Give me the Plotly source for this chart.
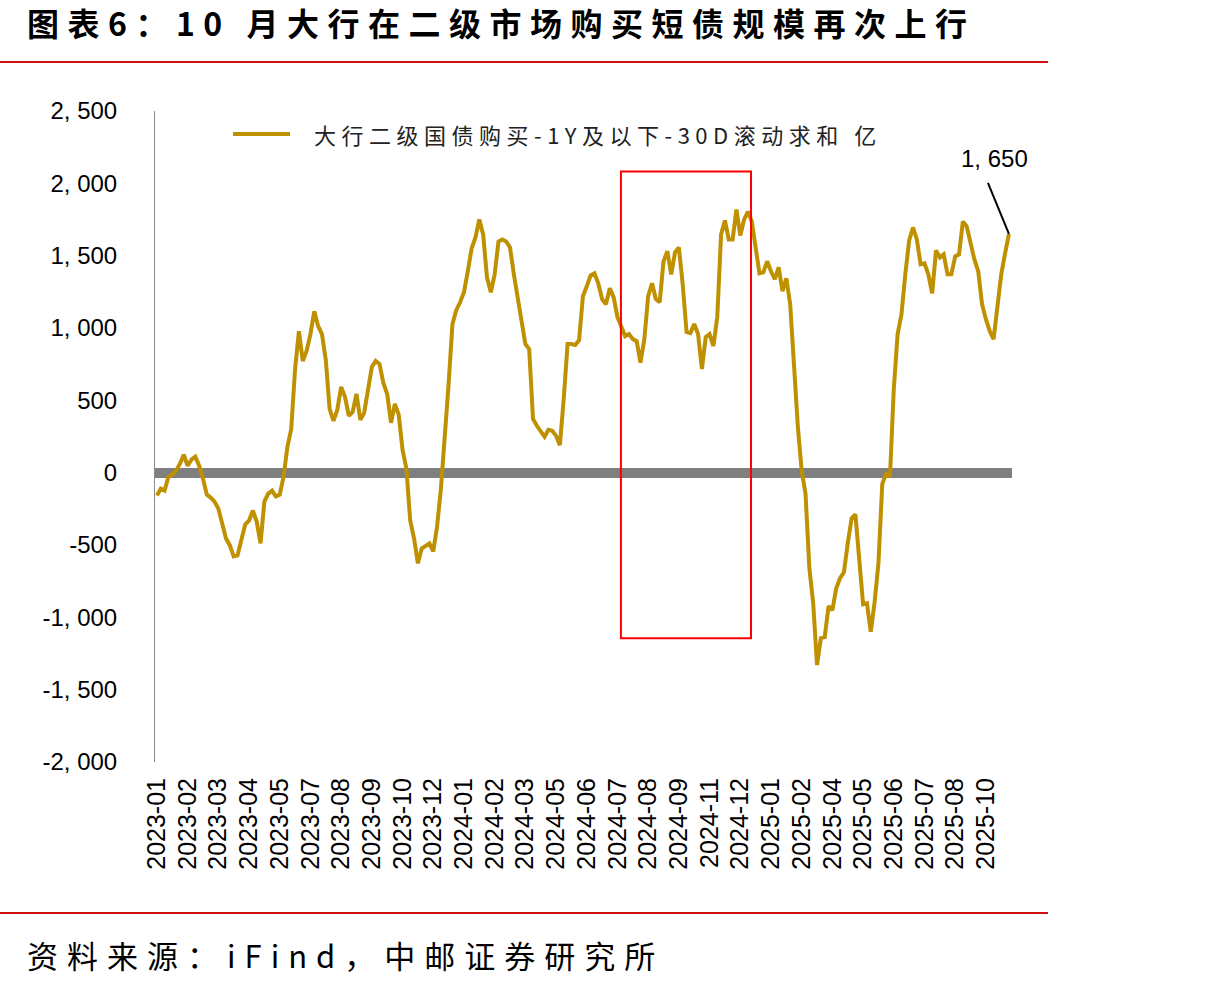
import plotly.graph_objects as go

# ---------------- data ----------------
tick_labels = [
    "2023-01", "2023-02", "2023-03", "2023-04", "2023-05", "2023-07", "2023-08",
    "2023-09", "2023-10", "2023-12", "2024-01", "2024-02", "2024-03", "2024-05",
    "2024-06", "2024-07", "2024-08", "2024-09", "2024-11", "2024-12", "2025-01",
    "2025-02", "2025-04", "2025-05", "2025-06", "2025-07", "2025-08", "2025-10",
]
points_per_label = 8

values = [
    -158, -110, -124, -28, -14, 14, 62, 124, 48, 90,
    110, 48, -41, -152, -172, -200, -248, -358, -455, -503,
    -579, -572, -462, -358, -331, -262, -338, -489, -200, -145,
    -124, -165, -152, -28, 179, 303, 717, 978, 772, 841,
    958, 1116, 1013, 958, 779, 441, 358, 434, 593, 524,
    393, 420, 544, 365, 413, 579, 730, 772, 751, 620,
    544, 345, 475, 400, 158, 28, -331, -455, -627, -524,
    -510, -489, -544, -372, -110, 227, 613, 1027, 1123, 1178,
    1247, 1392, 1550, 1626, 1750, 1647, 1350, 1247, 1371, 1598,
    1612, 1598, 1557, 1371, 1199, 1027, 889, 854, 372, 324,
    289, 248, 296, 289, 255, 190, 510, 889, 889, 882,
    916, 1220, 1288, 1364, 1378, 1309, 1199, 1164, 1275, 1213,
    1075, 1013, 944, 958, 923, 909, 760, 923, 1220, 1309,
    1199, 1178, 1461, 1530, 1371, 1523, 1557, 1302, 972, 965,
    1027, 958, 717, 937, 958, 875, 1075, 1647, 1743, 1612,
    1612, 1819, 1640, 1750, 1805, 1736, 1543, 1378, 1385, 1461,
    1392, 1337, 1419, 1254, 1344, 1164, 744, 317, 14, -145,
    -661, -903, -1330, -1144, -1137, -923, -951, -799, -730, -689,
    -489, -317, -289, -627, -909, -903, -1100, -896, -627, -76,
    -7, -28, 579, 958, 1095, 1371, 1605, 1695, 1612, 1440,
    1447, 1371, 1240, 1536, 1488, 1509, 1371, 1371, 1495, 1509,
    1736, 1702, 1578, 1474, 1392, 1164, 1061, 978, 923, 1171,
    1371, 1516, 1650,
]
series_name = "大行二级国债购买-1Y及以下-30D滚动求和 亿"
y_ticks = [-2000, -1500, -1000, -500, 0, 500, 1000, 1500, 2000, 2500]
y_tick_text = ["-2, 000", "-1, 500", "-1, 000", "-500", "0", "500",
               "1, 000", "1, 500", "2, 000", "2, 500"]
# highlighted window (index range and value range of the red box)
box_x = [120.9, 154.8]
box_y = [-1144, 2081]

title_text = "图表6：10 月大行在二级市场购买短债规模再次上行"
source_text = "资料来源：iFind，中邮证券研究所"

# ---------------- figure ----------------
x_idx = list(range(len(values)))
tick_vals = [i * points_per_label for i in range(len(tick_labels))]
last_i = x_idx[-1]
last_v = values[-1]

GOLD = "#BF9000"
CJK = "Noto Sans CJK SC"
LAT = "Arial, Liberation Sans, sans-serif"

fig = go.Figure()
fig.add_trace(go.Scatter(
    x=x_idx, y=values, mode="lines", name=series_name,
    line=dict(color=GOLD, width=4), showlegend=False,
))

W, H = 1228, 989
L, R, T, B = 155, 216, 111, 227
pw, ph = W - L - R, H - T - B


def px(xp):
    return (xp - L) / pw


def py(yp):
    return (H - B - yp) / ph


fig.update_layout(
    width=W, height=H,
    margin=dict(l=L, r=R, t=T, b=B, pad=0),
    paper_bgcolor="white", plot_bgcolor="white",
    font=dict(family=LAT, color="#000"),
    showlegend=False,
)
fig.update_xaxes(
    range=[-0.5, last_i + 0.8],
    tickvals=tick_vals, ticktext=tick_labels, tickangle=-90,
    tickfont=dict(size=25, family=LAT, color="#000"),
    showgrid=False, zeroline=False, showline=False, ticks="",
    ticklabelstandoff=10,
)
fig.update_yaxes(
    range=[-2000, 2500],
    tickvals=y_ticks, ticktext=y_tick_text,
    tickfont=dict(size=24, family=LAT, color="#000"),
    showgrid=False,
    zeroline=True, zerolinecolor="#7f7f7f", zerolinewidth=10,
    showline=True, linecolor="#8c8c8c", linewidth=1, ticks="",
    ticklabelstandoff=32,
)

shapes = [
    # red highlight box
    dict(type="rect", xref="x", yref="y", x0=box_x[0], x1=box_x[1],
         y0=box_y[0], y1=box_y[1], line=dict(color="#FF0000", width=2),
         fillcolor="rgba(0,0,0,0)"),
    # header / footer rules
    dict(type="line", xref="paper", yref="paper", x0=px(0), x1=px(1048),
         y0=py(62), y1=py(62), line=dict(color="#D01010", width=2)),
    dict(type="line", xref="paper", yref="paper", x0=px(0), x1=px(1048),
         y0=py(913), y1=py(913), line=dict(color="#D01010", width=2)),
    # legend sample
    dict(type="line", xref="paper", yref="paper", x0=px(233), x1=px(290),
         y0=py(134), y1=py(134), line=dict(color=GOLD, width=4)),
    # leader line for last value label
    dict(type="line", xref="x", yref="y", xsizemode="pixel", ysizemode="pixel",
         xanchor=last_i, yanchor=last_v, x0=0, y0=0, x1=-21, y1=51,
         line=dict(color="#000", width=2)),
]
fig.update_layout(shapes=shapes)

annotations = [
    dict(text="<b>" + title_text + "</b>", xref="paper", yref="paper",
         x=px(25), y=py(22), xanchor="left", yanchor="middle", showarrow=False,
         font=dict(family=CJK, size=32, color="#000")),
    dict(text=source_text, xref="paper", yref="paper",
         x=px(25), y=py(955), xanchor="left", yanchor="middle", showarrow=False,
         font=dict(family=CJK, size=31, color="#000")),
    dict(text=series_name, xref="paper", yref="paper",
         x=px(312), y=py(134), xanchor="left", yanchor="middle", showarrow=False,
         font=dict(family=CJK, size=22, color="#222")),
    dict(text=f"{last_v // 1000}, {last_v % 1000:03d}", xref="x", yref="y",
         x=last_i, y=last_v, xshift=-14, yshift=75, showarrow=False,
         font=dict(size=24, family=LAT, color="#000")),
]
fig.update_layout(annotations=annotations)

# widen the CJK captions' character spacing like the reference, keeping the left edge fixed
post = """
(function(){
  var rules = [['图表6', 8.5], ['资料来源', 9], ['大行二级', 5.5]];
  document.querySelectorAll('.annotation-text').forEach(function(t){
    var s = t.textContent || '';
    rules.forEach(function(r){
      if (s.indexOf(r[0]) === 0) {
        var w0 = t.getComputedTextLength();
        t.style.letterSpacing = r[1] + 'px';
        var w1 = t.getComputedTextLength();
        var x = parseFloat(t.getAttribute('x') || '0');
        t.setAttribute('x', x + (w1 - w0) / 2);
      }
    });
  });
})();
"""

fig.write_html("out.html", post_script=post)
